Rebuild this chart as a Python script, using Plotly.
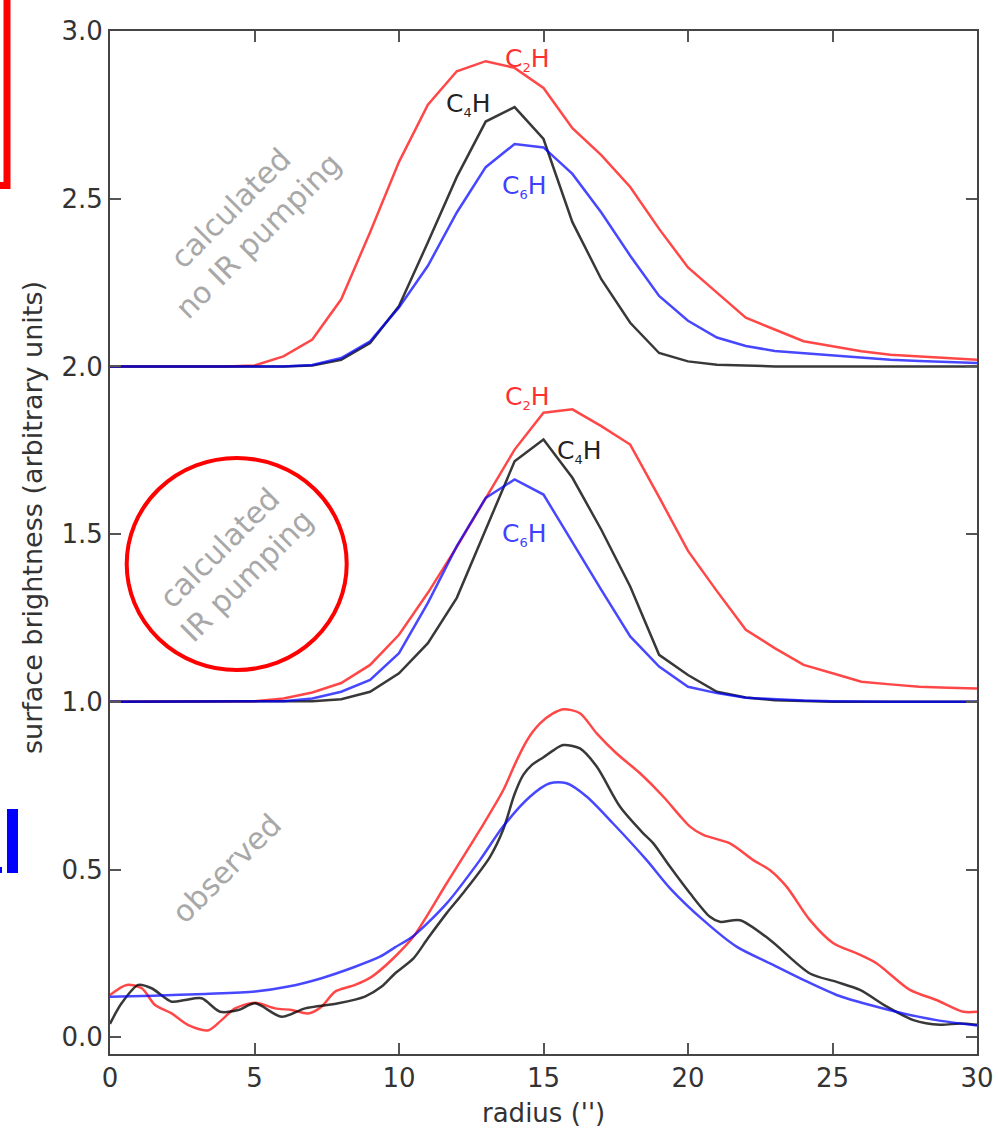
import plotly.graph_objects as go

# ---- model profiles, sampled at integer radii (arcsec) ----
radius_model = list(range(0, 31))

# calculated, no IR pumping (offset +2)
noir_c2h = [2.0, 2.0, 2.0, 2.0, 2.0, 2.003, 2.03, 2.08, 2.2, 2.40, 2.61, 2.78, 2.88, 2.91,
            2.89, 2.83, 2.71, 2.63, 2.535, 2.41, 2.295, 2.22, 2.145, 2.11, 2.075, 2.06,
            2.045, 2.035, 2.03, 2.025, 2.02]
noir_c4h = [2.0, 2.0, 2.0, 2.0, 2.0, 2.0, 2.0, 2.003, 2.02, 2.07, 2.18, 2.37, 2.565, 2.73,
            2.773, 2.678, 2.43, 2.26, 2.13, 2.04, 2.015, 2.005, 2.002, 2.0, 2.0, 2.0,
            2.0, 2.0, 2.0, 2.0, 2.0]
noir_c6h = [2.0, 2.0, 2.0, 2.0, 2.0, 2.0, 2.0, 2.004, 2.025, 2.075, 2.176, 2.30, 2.459,
            2.594, 2.663, 2.653, 2.574, 2.459, 2.33, 2.21, 2.136, 2.086, 2.061, 2.046,
            2.039, 2.032, 2.026, 2.02, 2.016, 2.013, 2.01]

# calculated, IR pumping (offset +1)
ir_c2h = [1.0, 1.0, 1.0, 1.0, 1.0, 1.002, 1.01, 1.028, 1.056, 1.11, 1.2, 1.325, 1.462,
          1.607, 1.752, 1.862, 1.872, 1.822, 1.767, 1.61, 1.45, 1.33, 1.215, 1.16, 1.11,
          1.085, 1.06, 1.052, 1.045, 1.042, 1.04]
ir_c4h = [1.0, 1.0, 1.0, 1.0, 1.0, 1.0, 1.0, 1.002, 1.008, 1.03, 1.085, 1.175, 1.31,
          1.513, 1.717, 1.782, 1.668, 1.513, 1.344, 1.14, 1.08, 1.03, 1.013, 1.005,
          1.002, 1.0, 1.0, 1.0, 1.0, 1.0, 1.0]
ir_c6h = [1.0, 1.0, 1.0, 1.0, 1.0, 1.0, 1.002, 1.01, 1.03, 1.065, 1.145, 1.295, 1.464,
          1.608, 1.663, 1.618, 1.474, 1.334, 1.195, 1.105, 1.045, 1.026, 1.012, 1.007,
          1.004, 1.002, 1.0, 1.0, 1.0, 1.0, 1.0]

# ---- observed profiles ----
obs_c2h_r = [0.0, 0.58, 1.1, 1.56, 2.13, 2.71, 3.4, 3.86, 4.33, 5.02, 5.71, 6.29, 6.86,
             7.32, 7.79, 8.48, 9.05, 9.86, 10.5, 11.65, 12.8, 13.61, 14.0, 14.3, 14.59,
             14.88, 15.3, 15.68, 16.26, 16.84, 17.53, 18.34, 19.15, 19.72, 20.07, 20.53,
             21.45, 22.26, 22.84, 23.41, 24.22, 25.03, 25.84, 26.53, 27.68, 28.6, 29.53,
             30.0]
obs_c2h = [0.126, 0.156, 0.146, 0.096, 0.071, 0.036, 0.021, 0.051, 0.086, 0.103, 0.086,
           0.081, 0.071, 0.091, 0.136, 0.156, 0.18, 0.24, 0.3, 0.459, 0.618, 0.737, 0.812,
           0.865, 0.906, 0.936, 0.964, 0.978, 0.966, 0.906, 0.846, 0.787, 0.717, 0.66,
           0.628, 0.603, 0.578, 0.528, 0.498, 0.449, 0.349, 0.28, 0.25, 0.22, 0.141, 0.111,
           0.076, 0.076]

obs_c4h_r = [0.0, 0.4, 0.98, 1.44, 2.13, 2.6, 3.17, 3.81, 4.44, 5.02, 5.94, 6.75, 7.9,
             8.82, 9.4, 9.86, 10.5, 11.0, 11.65, 12.22, 13.15, 13.61, 14.0, 14.3, 14.6,
             15.0, 15.3, 15.68, 16.26, 16.84, 17.65, 18.45, 18.8, 19.38, 20.07, 20.76,
             21.1, 21.8, 22.84, 24.22, 25.14, 25.95, 26.88, 27.8, 28.72, 29.41, 30.0]
obs_c4h = [0.04, 0.101, 0.156, 0.146, 0.106, 0.111, 0.116, 0.076, 0.081, 0.101, 0.061,
           0.086, 0.101, 0.121, 0.151, 0.19, 0.235, 0.295, 0.37, 0.43, 0.538, 0.62, 0.725,
           0.782, 0.812, 0.835, 0.853, 0.871, 0.861, 0.807, 0.687, 0.608, 0.578, 0.508,
           0.429, 0.359, 0.344, 0.349, 0.29, 0.19, 0.165, 0.141, 0.091, 0.051, 0.037,
           0.041, 0.037]

obs_c6h_r = [0.0, 1.5, 3.29, 5.02, 6.17, 7.32, 8.48, 9.34, 9.86, 10.5, 11.65, 12.8, 13.6,
             14.53, 15.22, 15.8, 16.5, 17.4, 18.57, 19.38, 20.53, 21.68, 22.84, 23.99,
             25.14, 26.3, 27.45, 28.6, 30.0]
obs_c6h = [0.121, 0.124, 0.129, 0.136, 0.151, 0.176, 0.21, 0.24, 0.268, 0.302, 0.399,
           0.528, 0.628, 0.717, 0.757, 0.757, 0.717, 0.638, 0.528, 0.444, 0.349, 0.27,
           0.22, 0.171, 0.126, 0.096, 0.071, 0.051, 0.035]

x_ticks = [0, 5, 10, 15, 20, 25, 30]
y_ticks = [0.0, 0.5, 1.0, 1.5, 2.0, 2.5, 3.0]

RED = "rgba(255,0,0,0.72)"
BLACK = "rgba(0,0,0,0.78)"
BLUE = "rgba(0,0,255,0.72)"
FONT = "DejaVu Sans"
LW = 2.5

fig = go.Figure()

for ys, col in [(noir_c2h, RED), (noir_c4h, BLACK), (noir_c6h, BLUE),
                (ir_c2h, RED), (ir_c4h, BLACK), (ir_c6h, BLUE)]:
    fig.add_trace(go.Scatter(x=radius_model, y=ys, mode="lines",
                             line=dict(color=col, width=LW), showlegend=False))

for xs, ys, col in [(obs_c2h_r, obs_c2h, RED), (obs_c4h_r, obs_c4h, BLACK),
                    (obs_c6h_r, obs_c6h, BLUE)]:
    fig.add_trace(go.Scatter(x=xs, y=ys, mode="lines",
                             line=dict(color=col, width=LW, shape="spline", smoothing=0.8),
                             showlegend=False))


def species(n):
    return f"C<sub><span style='font-size:13px'>{n}</span></sub>H"


# species labels
labels = [
    (species(2), 14.46, 2.915, "#ff3030"),
    (species(4), 12.42, 2.78, "#222222"),
    (species(6), 14.33, 2.535, "#4040ff"),
    (species(2), 14.46, 1.908, "#ff3030"),
    (species(4), 16.26, 1.747, "#222222"),
    (species(6), 14.33, 1.498, "#4040ff"),
]
for txt, x, y, col in labels:
    fig.add_annotation(x=x, y=y, text=txt, showarrow=False,
                       font=dict(family=FONT, size=25, color=col),
                       xanchor="center", yanchor="middle")

# panel captions
captions = [
    ("calculated<br>no IR pumping", 4.65, 2.43),
    ("calculated<br>IR pumping", 4.25, 1.418),
    ("observed", 4.03, 0.503),
]
for txt, x, y in captions:
    fig.add_annotation(x=x, y=y, text=txt, showarrow=False, textangle=-45,
                       align="center", font=dict(family=FONT, size=30, color="#a8a8a8"),
                       xanchor="center", yanchor="middle")

# axis titles
L, R, T, B = 110, 977, 31, 1054
W, H = R - L, B - T


def px(x):
    return (x - L) / W


def py(y):
    return (B - y) / H


fig.add_annotation(xref="paper", yref="paper", x=px(32), y=py(518),
                   text="surface brightness (arbitrary units)", textangle=-90,
                   showarrow=False, font=dict(family=FONT, size=27, color="#333333"),
                   xanchor="center", yanchor="middle")
fig.add_annotation(xref="paper", yref="paper", x=px(543), y=py(1113),
                   text="radius ('')", showarrow=False,
                   font=dict(family=FONT, size=26, color="#333333"),
                   xanchor="center", yanchor="middle")

# highlight marks around the figure
fig.add_shape(type="rect", xref="paper", yref="paper",
              x0=px(-30), x1=px(7), y0=py(-30), y1=py(185.5),
              line=dict(color="#ff0000", width=7))
fig.add_shape(type="rect", xref="paper", yref="paper",
              x0=px(7), x1=px(18), y0=py(809), y1=py(873),
              line=dict(width=0), fillcolor="#0000ff")
fig.add_shape(type="rect", xref="paper", yref="paper",
              x0=px(-2), x1=px(2), y0=py(867), y1=py(873),
              line=dict(width=0), fillcolor="#0000ff")
fig.add_shape(type="circle", xref="paper", yref="paper",
              x0=px(126.7), x1=px(346.7), y0=py(458), y1=py(670),
              line=dict(color="#ff0000", width=4))

axis_common = dict(showgrid=False, zeroline=False, showline=True, linecolor="#444444",
                   linewidth=2, mirror="allticks", ticks="inside", ticklen=11,
                   tickwidth=1.5, tickcolor="#555555", automargin=False,
                   tickfont=dict(family=FONT, size=26, color="#333333"))

fig.update_xaxes(range=[0, 30], tickvals=x_ticks, ticktext=[str(v) for v in x_ticks],
                 **axis_common)
fig.update_yaxes(range=[-0.05, 3.0], tickvals=y_ticks,
                 ticktext=[f"{v:.1f}" for v in y_ticks], **axis_common)

fig.update_layout(width=998, height=1131, plot_bgcolor="white", paper_bgcolor="white",
                  margin=dict(l=L, r=998 - R, t=T, b=1131 - B, autoexpand=False),
                  showlegend=False)

fig.write_html("out.html")
